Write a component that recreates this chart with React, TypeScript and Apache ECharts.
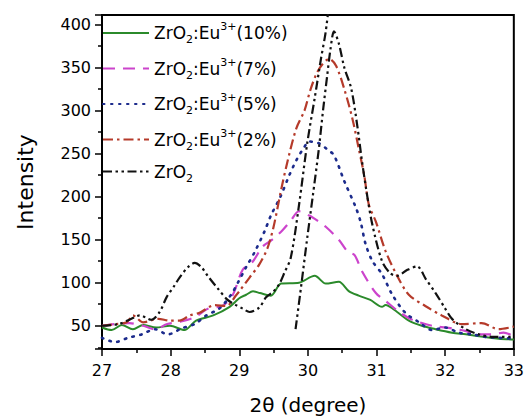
import React, { useEffect, useRef } from "react";
import * as echarts from "echarts";

// 2θ range and tick labels
const xTicks = [27, 28, 29, 30, 31, 32, 33];
const yTicks = [50, 100, 150, 200, 250, 300, 350, 400];

const seriesNames = ["ZrO2:Eu3+(10%)", "ZrO2:Eu3+(7%)", "ZrO2:Eu3+(5%)", "ZrO2:Eu3+(2%)", "ZrO2"];

const eu10: [number, number][] = [
  [27.0, 48], [27.14, 45], [27.29, 51], [27.45, 46], [27.6, 51], [27.79, 48], [27.99, 50], [28.2, 45],
  [28.37, 56], [28.62, 62], [28.86, 72], [29.0, 82], [29.1, 86], [29.2, 90], [29.3, 88], [29.46, 85],
  [29.61, 99], [29.87, 100], [30.1, 108], [30.26, 99], [30.45, 101], [30.6, 90], [30.74, 85], [30.91, 80],
  [31.08, 72], [31.13, 74], [31.3, 66], [31.47, 56], [31.66, 50], [31.86, 46], [32.1, 42], [32.3, 40],
  [32.58, 37], [32.78, 35], [33.0, 34],
];

const eu7: [number, number][] = [
  [27.0, 50], [27.2, 52], [27.4, 53], [27.6, 50], [27.77, 46], [27.95, 52], [28.15, 55], [28.35, 60],
  [28.55, 70], [28.75, 73], [28.9, 85], [29.05, 115], [29.2, 125], [29.34, 142], [29.48, 150], [29.63, 161],
  [29.75, 172], [29.87, 183], [30.02, 178], [30.14, 172], [30.26, 165], [30.45, 150], [30.58, 136],
  [30.68, 132], [30.79, 113], [30.99, 88], [31.13, 79], [31.33, 66], [31.52, 57], [31.81, 50], [32.1, 47],
  [32.29, 44], [32.49, 40], [32.68, 40], [32.85, 42], [33.0, 38],
];

const eu5: [number, number][] = [
  [27.0, 36], [27.19, 31], [27.38, 36], [27.58, 40], [27.77, 46], [27.96, 40], [28.16, 47], [28.35, 52],
  [28.52, 62], [28.71, 70], [28.88, 86], [28.98, 100], [29.1, 118], [29.22, 135], [29.37, 160], [29.46, 178],
  [29.6, 200], [29.73, 225], [29.83, 242], [29.95, 258], [30.02, 264], [30.16, 262], [30.28, 255],
  [30.38, 248], [30.53, 218], [30.7, 187], [30.77, 170], [30.84, 145], [30.94, 125], [31.08, 110],
  [31.23, 86], [31.42, 65], [31.62, 54], [31.81, 45], [32.0, 48], [32.2, 42], [32.39, 40], [32.6, 37],
  [32.78, 36], [33.0, 35],
];

const eu2: [number, number][] = [
  [27.0, 50], [27.2, 52], [27.36, 54], [27.45, 62], [27.6, 54], [27.82, 58], [27.99, 56], [28.13, 56],
  [28.28, 62], [28.42, 65], [28.64, 74], [28.81, 73], [28.96, 86], [29.0, 90], [29.15, 106], [29.29, 121],
  [29.41, 140], [29.5, 165], [29.61, 208], [29.7, 240], [29.83, 279], [29.95, 300], [30.04, 325],
  [30.16, 348], [30.31, 360], [30.41, 352], [30.53, 325], [30.65, 290], [30.74, 256], [30.82, 225],
  [30.89, 190], [30.99, 171], [31.13, 137], [31.3, 108], [31.47, 86], [31.71, 73], [31.95, 62],
  [32.24, 52], [32.53, 53], [32.78, 46], [33.0, 49],
];

const zro2: [number, number | null][] = [
  [27.0, 50], [27.24, 52], [27.4, 57], [27.55, 62], [27.72, 57], [27.84, 66], [27.94, 83], [28.05, 96],
  [28.13, 106], [28.25, 118], [28.35, 123], [28.45, 118], [28.54, 108], [28.69, 93], [28.83, 80],
  [28.95, 74], [29.05, 70], [29.15, 66], [29.29, 71], [29.39, 83], [29.5, 90], [29.58, 98], [29.66, 112],
  [29.75, 129], [29.87, 190], [29.99, 262], [30.1, 315], [30.19, 360], [30.26, 392], [30.33, 440],
  [30.34, null],
  [29.82, 46], [29.9, 95], [29.99, 152], [30.07, 200], [30.16, 256], [30.22, 300], [30.28, 340],
  [30.33, 372], [30.38, 392], [30.45, 378], [30.53, 350], [30.63, 326], [30.72, 282], [30.79, 240],
  [30.87, 198], [30.94, 167], [31.08, 125], [31.2, 111], [31.3, 108], [31.45, 115], [31.59, 119],
  [31.72, 104], [31.86, 88], [32.0, 70], [32.1, 58], [32.3, 46], [32.49, 40], [32.7, 37], [33.0, 37],
];

const percentLabels = ["(10%)", "(7%)", "(5%)", "(2%)"];

const FONT = "DejaVu Sans, Verdana, sans-serif";

export default function App() {
  const ref = useRef<HTMLDivElement>(null);
  useEffect(() => {
    if (!ref.current) return;
    const chart = echarts.init(ref.current, undefined, { renderer: "svg" });
    const datasets = [eu10, eu7, eu5, eu2, zro2];
    const colors = ["#2b8a2b", "#cc44cc", "#1c2b8c", "#b53a2a", "#111111"];
    const dashes: any[] = ["solid", [12, 8], [1.5, 6.5], [10, 4, 2.5, 4], [9, 3.5, 2.5, 3.5, 2.5, 3.5]];
    const widths = [2, 2.2, 2.6, 2.2, 2.2];
    const option: any = {
      animation: false,
      grid: { left: 102, right: 11, top: 15, bottom: 68, show: true, borderColor: "#000", borderWidth: 2 },
      legend: {
        orient: "vertical",
        left: 102,
        top: 21,
        padding: 0,
        itemWidth: 46,
        itemHeight: 14,
        itemGap: 11.5,
        itemStyle: { opacity: 0 },
        data: seriesNames,
        formatter: (name: string) => {
          const i = seriesNames.indexOf(name);
          if (i === 4) return "{t|ZrO}{s|2}";
          return "{t|ZrO}{s|2}{t|:Eu}{p|3+}{t|" + percentLabels[i] + "}";
        },
        textStyle: {
          color: "#000",
          fontFamily: FONT,
          fontSize: 17,
          rich: {
            t: { fontSize: 17, lineHeight: 24, fontFamily: FONT, color: "#000" },
            s: { fontSize: 11, lineHeight: 11, verticalAlign: "bottom", fontFamily: FONT, color: "#000" },
            p: { fontSize: 11, lineHeight: 11, verticalAlign: "top", fontFamily: FONT, color: "#000" },
          },
        },
      },
      xAxis: {
        type: "value",
        min: xTicks[0],
        max: xTicks[xTicks.length - 1],
        interval: 1,
        name: "2θ (degree)",
        nameLocation: "middle",
        nameGap: 46,
        nameTextStyle: { fontFamily: FONT, fontSize: 20, color: "#000" },
        axisLine: { lineStyle: { color: "#000", width: 2 } },
        axisTick: { length: 7, lineStyle: { color: "#000", width: 1.5 } },
        minorTick: { show: true, splitNumber: 2, length: 4, lineStyle: { color: "#000", width: 1.5 } },
        axisLabel: { margin: 13, fontFamily: FONT, fontSize: 16, color: "#000" },
        splitLine: { show: false },
      },
      yAxis: {
        type: "value",
        min: 23,
        max: 411,
        splitNumber: 8,
        minInterval: 50,
        maxInterval: 50,
        name: "Intensity",
        nameLocation: "middle",
        nameGap: 66,
        nameTextStyle: { fontFamily: FONT, fontSize: 22, color: "#000" },
        axisLine: { show: true, lineStyle: { color: "#000", width: 2 } },
        axisTick: { show: true, length: 7, lineStyle: { color: "#000", width: 1.5 } },
        minorTick: { show: true, splitNumber: 2, length: 4, lineStyle: { color: "#000", width: 1.5 } },
        axisLabel: {
          margin: 11,
          fontFamily: FONT,
          fontSize: 16,
          color: "#000",
          showMinLabel: false,
          showMaxLabel: false,
          formatter: (v: number) => (yTicks.indexOf(v) >= 0 ? String(v) : ""),
        },
        splitLine: { show: false },
      },
      series: datasets.map((d, i) => ({
        name: seriesNames[i],
        type: "line",
        data: d,
        showSymbol: false,
        symbol: "none",
        smooth: 0.3,
        connectNulls: false,
        clip: true,
        color: colors[i],
        lineStyle: { color: colors[i], width: widths[i], type: dashes[i], cap: i === 2 ? "round" : "butt" },
      })),
    };
    chart.setOption(option);
    return () => chart.dispose();
  }, []);
  return (
    <div
      ref={ref}
      style={{ position: "fixed", left: 0, top: 0, width: 527, height: 420, background: "#fff" }}
    />
  );
}
